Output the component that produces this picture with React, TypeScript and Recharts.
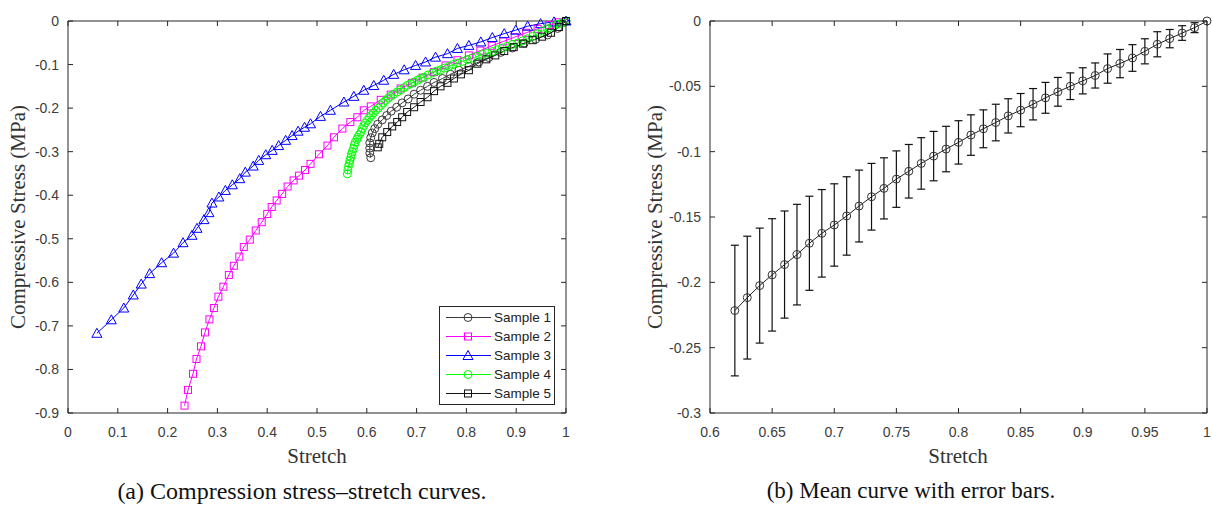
import React from "react";
import {
  ComposedChart,
  Line,
  XAxis,
  YAxis,
  ErrorBar,
  Legend,
} from "recharts";

// ---- (a) stress-stretch curves ----
const sample1X = [0.608, 0.606, 0.606, 0.606, 0.608, 0.611, 0.616, 0.622, 0.631, 0.64, 0.649, 0.66, 0.671, 0.683, 0.695, 0.708, 0.722, 0.735, 0.752, 0.768, 0.785, 0.805, 0.825, 0.845, 0.869, 0.892, 0.916, 0.939, 0.963, 0.983, 0.996, 1.0];
const sample1Y = [-0.314, -0.303, -0.292, -0.28, -0.268, -0.257, -0.247, -0.237, -0.227, -0.217, -0.207, -0.198, -0.188, -0.179, -0.168, -0.159, -0.15, -0.141, -0.132, -0.1225, -0.113, -0.104, -0.094, -0.084, -0.072, -0.062, -0.051, -0.042, -0.032, -0.017, -0.003, 0];

const sample2X = [0.234, 0.241, 0.251, 0.258, 0.267, 0.275, 0.284, 0.293, 0.302, 0.312, 0.323, 0.333, 0.344, 0.353, 0.365, 0.377, 0.389, 0.4, 0.409, 0.419, 0.43, 0.441, 0.453, 0.464, 0.476, 0.487, 0.504, 0.521, 0.534, 0.551, 0.567, 0.581, 0.594, 0.608, 0.628, 0.648, 0.668, 0.691, 0.712, 0.735, 0.758, 0.782, 0.805, 0.828, 0.851, 0.874, 0.897, 0.92, 0.943, 0.966, 0.985, 1.0];
const sample2Y = [-0.883, -0.847, -0.81, -0.776, -0.747, -0.715, -0.685, -0.659, -0.633, -0.61, -0.583, -0.562, -0.541, -0.519, -0.502, -0.481, -0.462, -0.443, -0.427, -0.412, -0.397, -0.38, -0.366, -0.355, -0.342, -0.328, -0.306, -0.286, -0.267, -0.247, -0.232, -0.221, -0.205, -0.196, -0.181, -0.169, -0.155, -0.142, -0.13, -0.117, -0.102, -0.09, -0.079, -0.068, -0.057, -0.047, -0.037, -0.027, -0.018, -0.009, -0.003, 0];

const sample3X = [0.058, 0.087, 0.112, 0.131, 0.147, 0.164, 0.188, 0.212, 0.231, 0.249, 0.259, 0.273, 0.283, 0.289, 0.303, 0.316, 0.33, 0.345, 0.356, 0.372, 0.383, 0.397, 0.41, 0.423, 0.437, 0.45, 0.462, 0.475, 0.487, 0.507, 0.527, 0.554, 0.574, 0.594, 0.614, 0.634, 0.654, 0.675, 0.698, 0.718, 0.738, 0.762, 0.782, 0.805, 0.829, 0.852, 0.876, 0.899, 0.923, 0.949, 0.976, 1.0];
const sample3Y = [-0.717, -0.686, -0.659, -0.629, -0.604, -0.58, -0.555, -0.533, -0.509, -0.492, -0.476, -0.456, -0.44, -0.418, -0.404, -0.389, -0.376, -0.362, -0.347, -0.333, -0.32, -0.307, -0.297, -0.286, -0.274, -0.263, -0.253, -0.244, -0.236, -0.219, -0.205, -0.186, -0.173, -0.159, -0.148, -0.136, -0.1225, -0.112, -0.102, -0.094, -0.083, -0.075, -0.063, -0.056, -0.048, -0.038, -0.029, -0.021, -0.012, -0.006, -0.002, 0];

const sample4X = [0.561, 0.562, 0.563, 0.565, 0.566, 0.568, 0.569, 0.571, 0.573, 0.575, 0.577, 0.58, 0.582, 0.585, 0.588, 0.591, 0.594, 0.597, 0.601, 0.605, 0.609, 0.613, 0.618, 0.623, 0.628, 0.633, 0.638, 0.643, 0.648, 0.654, 0.661, 0.668, 0.675, 0.681, 0.688, 0.695, 0.702, 0.708, 0.715, 0.723, 0.732, 0.74, 0.748, 0.756, 0.765, 0.773, 0.782, 0.792, 0.802, 0.812, 0.822, 0.832, 0.842, 0.852, 0.862, 0.872, 0.882, 0.892, 0.903, 0.913, 0.923, 0.933, 0.943, 0.953, 0.963, 0.973, 0.983, 0.992, 1.0];
const sample4Y = [-0.351, -0.342, -0.334, -0.327, -0.32, -0.313, -0.306, -0.3, -0.293, -0.285, -0.278, -0.272, -0.267, -0.261, -0.255, -0.247, -0.24, -0.234, -0.228, -0.222, -0.217, -0.211, -0.205, -0.2, -0.194, -0.188, -0.182, -0.177, -0.173, -0.168, -0.163, -0.158, -0.153, -0.148, -0.144, -0.14, -0.136, -0.132, -0.129, -0.124, -0.119, -0.115, -0.112, -0.108, -0.104, -0.1, -0.0965, -0.0925, -0.0887, -0.085, -0.081, -0.077, -0.0735, -0.07, -0.066, -0.062, -0.058, -0.054, -0.0505, -0.0455, -0.0405, -0.035, -0.029, -0.023, -0.0175, -0.012, -0.0076, -0.004, 0];

const sample5X = [0.622, 0.625, 0.631, 0.641, 0.651, 0.661, 0.671, 0.681, 0.695, 0.708, 0.722, 0.735, 0.748, 0.762, 0.775, 0.789, 0.805, 0.822, 0.84, 0.858, 0.876, 0.895, 0.914, 0.933, 0.952, 0.97, 0.986, 1.0];
const sample5Y = [-0.29, -0.282, -0.267, -0.255, -0.242, -0.232, -0.221, -0.209, -0.198, -0.186, -0.175, -0.161, -0.15, -0.142, -0.132, -0.1225, -0.113, -0.098, -0.088, -0.079, -0.069, -0.06, -0.052, -0.044, -0.036, -0.027, -0.014, 0];

const xTicksA = [0, 0.1, 0.2, 0.3, 0.4, 0.5, 0.6, 0.7, 0.8, 0.9, 1];
const yTicksA = [0, -0.1, -0.2, -0.3, -0.4, -0.5, -0.6, -0.7, -0.8, -0.9];

// ---- (b) mean curve with error bars ----
const meanX = [0.62, 0.63, 0.64, 0.65, 0.66, 0.67, 0.68, 0.69, 0.7, 0.71, 0.72, 0.73, 0.74, 0.75, 0.76, 0.77, 0.78, 0.79, 0.8, 0.81, 0.82, 0.83, 0.84, 0.85, 0.86, 0.87, 0.88, 0.89, 0.9, 0.91, 0.92, 0.93, 0.94, 0.95, 0.96, 0.97, 0.98, 0.99, 1.0];
const meanY = [-0.2216, -0.2117, -0.2025, -0.1943, -0.1864, -0.1788, -0.1701, -0.1625, -0.1561, -0.1492, -0.1416, -0.1345, -0.1281, -0.121, -0.115, -0.109, -0.1034, -0.098, -0.0929, -0.0873, -0.0825, -0.0777, -0.0726, -0.0682, -0.0637, -0.0588, -0.0542, -0.0499, -0.0458, -0.0417, -0.0364, -0.0326, -0.0283, -0.0232, -0.0178, -0.0135, -0.0092, -0.0051, 0];
const meanErr = [0.05, 0.047, 0.044, 0.043, 0.041, 0.0385, 0.036, 0.0335, 0.0315, 0.03, 0.0275, 0.0255, 0.0234, 0.0216, 0.0205, 0.0197, 0.0189, 0.0174, 0.0166, 0.0155, 0.0145, 0.014, 0.0131, 0.0127, 0.012, 0.0118, 0.011, 0.0102, 0.01, 0.0096, 0.0112, 0.0108, 0.0102, 0.0096, 0.0096, 0.007, 0.0056, 0.0038, 0];

const xTicksB = [0.6, 0.65, 0.7, 0.75, 0.8, 0.85, 0.9, 0.95, 1];
const yTicksB = [0, -0.05, -0.1, -0.15, -0.2, -0.25, -0.3];

const zip = (xs: number[], ys: number[]) => xs.map((x, i) => ({ x, y: ys[i] }));
const meanData = meanX.map((x, i) => ({ x, y: meanY[i], err: meanErr[i] }));

type Shape = "circle" | "square" | "triangle";

const series = [
  { name: "Sample 1", data: zip(sample1X, sample1Y), color: "#3a3a3a", shape: "circle" as Shape },
  { name: "Sample 2", data: zip(sample2X, sample2Y), color: "#ff00ff", shape: "square" as Shape },
  { name: "Sample 3", data: zip(sample3X, sample3Y), color: "#0000ff", shape: "triangle" as Shape },
  { name: "Sample 4", data: zip(sample4X, sample4Y), color: "#00ff00", shape: "circle" as Shape },
  { name: "Sample 5", data: zip(sample5X, sample5Y), color: "#111111", shape: "square" as Shape },
];

const AX = "#262626";
const TICK_FONT = { fontFamily: "'Liberation Sans', Arial, sans-serif", fontSize: 14, fill: "#3c3c3c" };
const SERIF = "'Liberation Serif', 'Times New Roman', serif";

function Marker({ shape, cx, cy, color }: { shape: Shape; cx: number; cy: number; color: string }) {
  if (shape === "square")
    return <rect x={cx - 3.5} y={cy - 3.5} width={7} height={7} fill="none" stroke={color} strokeWidth={1} />;
  if (shape === "triangle")
    return <polygon points={`${cx},${cy - 5} ${cx - 5},${cy + 4} ${cx + 5},${cy + 4}`} fill="none" stroke={color} strokeWidth={1} />;
  return <circle cx={cx} cy={cy} r={4} fill="none" stroke={color} strokeWidth={1} />;
}

const dotFor = (shape: Shape, color: string) => (p: any) => {
  if (p.cx == null || p.cy == null) return <g key={p.key} />;
  return <Marker key={p.key} shape={shape} cx={p.cx} cy={p.cy} color={color} />;
};

// inward ticks, MATLAB style
const BottomTick = (p: any) => (
  <g>
    <line x1={p.x} x2={p.x} y1={p.y} y2={p.y - 5} stroke={AX} />
    <text x={p.x} y={p.y + 19} textAnchor="middle" dominantBaseline="central" {...TICK_FONT}>
      {String(p.payload.value)}
    </text>
  </g>
);
const LeftTick = (p: any) => (
  <g>
    <line x1={p.x} x2={p.x + 5} y1={p.y} y2={p.y} stroke={AX} />
    <text x={p.x - 9} y={p.y} textAnchor="end" dominantBaseline="central" {...TICK_FONT}>
      {String(p.payload.value)}
    </text>
  </g>
);
const TopTick = (p: any) => <line x1={p.x} x2={p.x} y1={p.y} y2={p.y + 5} stroke={AX} />;
const RightTick = (p: any) => <line x1={p.x} x2={p.x - 5} y1={p.y} y2={p.y} stroke={AX} />;

function LegendBox() {
  return (
    <div style={{ border: `1px solid ${AX}`, background: "#fff", width: 114, paddingTop: 1, paddingBottom: 1 }}>
      {series.map((s) => (
        <div key={s.name} style={{ display: "flex", alignItems: "center", height: 19 }}>
          <svg width={54} height={19} style={{ display: "block" }}>
            <line x1={6} x2={51} y1={9.5} y2={9.5} stroke={s.color} strokeWidth={1} />
            <Marker shape={s.shape} cx={28} cy={9.5} color={s.color} />
          </svg>
          <span style={{ fontFamily: "'Liberation Sans', Arial, sans-serif", fontSize: 13.5, color: "#222" }}>{s.name}</span>
        </div>
      ))}
    </div>
  );
}

const centered = (left: number, top: number, extra: React.CSSProperties = {}): React.CSSProperties => ({
  position: "absolute",
  left,
  top,
  transform: "translate(-50%, -50%)",
  whiteSpace: "nowrap",
  ...extra,
});

export default function App() {
  return (
    <div style={{ position: "absolute", left: 0, top: 0, width: 1212, height: 506, background: "#fff" }}>
      {/* (a) */}
      <div style={{ position: "absolute", left: 0, top: 0 }}>
        <ComposedChart width={600} height={445} margin={{ top: 20, right: 33, bottom: 12, left: 8 }}>
          <XAxis type="number" dataKey="x" domain={[0, 1]} ticks={xTicksA} interval={0} height={20}
            tick={<BottomTick />} tickLine={false} tickSize={0} tickMargin={0} axisLine={{ stroke: AX }} />
          <XAxis xAxisId="top" orientation="top" type="number" dataKey="x" domain={[0, 1]} ticks={xTicksA} interval={0} height={1}
            allowDataOverflow tick={<TopTick />} tickLine={false} tickSize={0} tickMargin={0} axisLine={{ stroke: AX }} />
          <YAxis type="number" domain={[-0.9, 0]} ticks={yTicksA} interval={0} width={60}
            tick={<LeftTick />} tickLine={false} tickSize={0} tickMargin={0} axisLine={{ stroke: AX }} />
          <YAxis yAxisId="right" orientation="right" type="number" domain={[-0.9, 0]} ticks={yTicksA} interval={0} width={1}
            allowDataOverflow tick={<RightTick />} tickLine={false} tickSize={0} tickMargin={0} axisLine={{ stroke: AX }} />
          {/* invisible series so the frame axes get drawn */}
          <Line xAxisId="top" yAxisId="right" data={series[2].data} dataKey="y" stroke="none" dot={false}
            activeDot={false} legendType="none" isAnimationActive={false} />
          {series.map((s) => (
            <Line key={s.name} name={s.name} data={s.data} dataKey="y" type="linear" stroke={s.color} strokeWidth={1}
              dot={dotFor(s.shape, s.color)} activeDot={false} isAnimationActive={false} />
          ))}
          <Legend layout="vertical" align="center" verticalAlign="middle" content={() => <LegendBox />}
            wrapperStyle={{ position: "absolute", left: 439, top: 306, width: 116 }} />
        </ComposedChart>
      </div>
      <div style={centered(18, 217, { transform: "translate(-50%, -50%) rotate(-90deg)", fontFamily: SERIF, fontSize: 21, color: "#333" })}>
        Compressive Stress (MPa)
      </div>
      <div style={centered(317, 456, { fontFamily: SERIF, fontSize: 21, color: "#333" })}>Stretch</div>
      <div style={centered(302, 491, { fontFamily: SERIF, fontSize: 24, color: "#111" })}>
        (a) Compression stress–stretch curves.
      </div>

      {/* (b) */}
      <div style={{ position: "absolute", left: 600, top: 0 }}>
        <ComposedChart width={612} height={445} data={meanData} margin={{ top: 20, right: 4, bottom: 12, left: 10 }}>
          <XAxis type="number" dataKey="x" domain={[0.6, 1]} ticks={xTicksB} interval={0} height={20}
            tick={<BottomTick />} tickLine={false} tickSize={0} tickMargin={0} axisLine={{ stroke: AX }} />
          <XAxis xAxisId="top" orientation="top" type="number" dataKey="x" domain={[0.6, 1]} ticks={xTicksB} interval={0} height={1}
            allowDataOverflow tick={<TopTick />} tickLine={false} tickSize={0} tickMargin={0} axisLine={{ stroke: AX }} />
          <YAxis type="number" domain={[-0.3, 0]} ticks={yTicksB} interval={0} width={100}
            tick={<LeftTick />} tickLine={false} tickSize={0} tickMargin={0} axisLine={{ stroke: AX }} />
          <YAxis yAxisId="right" orientation="right" type="number" domain={[-0.3, 0]} ticks={yTicksB} interval={0} width={1}
            allowDataOverflow tick={<RightTick />} tickLine={false} tickSize={0} tickMargin={0} axisLine={{ stroke: AX }} />
          <Line xAxisId="top" yAxisId="right" dataKey="y" stroke="none" dot={false}
            activeDot={false} legendType="none" isAnimationActive={false} />
          <Line dataKey="y" type="linear" stroke="#222" strokeWidth={1} dot={dotFor("circle", "#333")}
            activeDot={false} isAnimationActive={false}>
            <ErrorBar dataKey="err" direction="y" width={4} stroke="#111" strokeWidth={1.2} />
          </Line>
        </ComposedChart>
      </div>
      <div style={centered(655, 217, { transform: "translate(-50%, -50%) rotate(-90deg)", fontFamily: SERIF, fontSize: 21, color: "#333" })}>
        Compressive Stress (MPa)
      </div>
      <div style={centered(958, 456, { fontFamily: SERIF, fontSize: 21, color: "#333" })}>Stretch</div>
      <div style={centered(911, 491, { fontFamily: SERIF, fontSize: 23, color: "#111" })}>
        (b) Mean curve with error bars.
      </div>
    </div>
  );
}
